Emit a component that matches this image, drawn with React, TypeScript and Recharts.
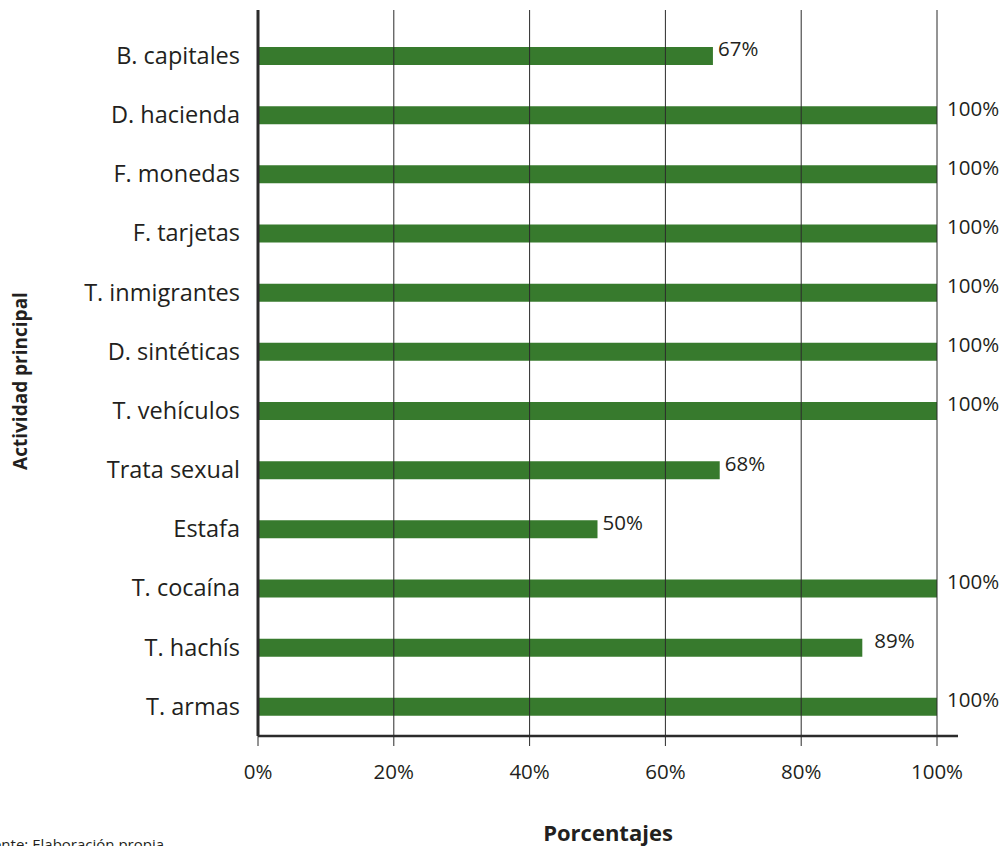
import { BarChart, Bar, XAxis, YAxis, ReferenceLine, LabelList } from "recharts";

const categories = [
  "B. capitales",
  "D. hacienda",
  "F. monedas",
  "F. tarjetas",
  "T. inmigrantes",
  "D. sintéticas",
  "T. vehículos",
  "Trata sexual",
  "Estafa",
  "T. cocaína",
  "T. hachís",
  "T. armas",
];
const porcentajes = [67, 100, 100, 100, 100, 100, 100, 68, 50, 100, 89, 100];
const xTicks = [0, 20, 40, 60, 80, 100];

const data = categories.map((actividad, i) => ({ actividad, valor: porcentajes[i] }));

const FONT = "'Open Sans', 'Noto Sans', sans-serif";
const TEXT = "#231f20";
const LINE = "#2b2b2b";

function ValueLabel(props: any) {
  const { x, y, width, height, value } = props;
  const gap = value === 100 ? 10 : value === 89 ? 12 : 5;
  return (
    <text
      x={x + width + gap}
      y={y + height / 2 - 5}
      fill={TEXT}
      fontSize={20.5}
      fontFamily={FONT}
      dominantBaseline="middle"
    >
      {value}%
    </text>
  );
}

function YTitle(props: any) {
  const { viewBox } = props;
  const cx = viewBox.x + 22;
  const cy = viewBox.y + viewBox.height / 2 + 8;
  return (
    <text
      x={cx}
      y={cy}
      transform={`rotate(-90 ${cx} ${cy})`}
      textAnchor="middle"
      dominantBaseline="middle"
      fill={TEXT}
      fontSize={19}
      fontWeight="bold"
      fontFamily={FONT}
    >
      Actividad principal
    </text>
  );
}

export default function App() {
  return (
    <div style={{ position: "absolute", left: 0, top: 0, width: 1003, height: 846, overflow: "hidden", background: "#fff" }}>
      <BarChart
        width={1003}
        height={846}
        data={data}
        layout="vertical"
        margin={{ top: 10, right: 45, left: 0, bottom: 0 }}
        barCategoryGap={0}
      >
        {xTicks.slice(1).map((t) => (
          <ReferenceLine key={t} x={t} stroke={LINE} strokeWidth={1} />
        ))}
        <XAxis
          type="number"
          domain={[0, 100]}
          ticks={xTicks}
          tickFormatter={(v) => `${v}%`}
          padding={{ left: 0, right: 21 }}
          height={110}
          axisLine={{ stroke: LINE, strokeWidth: 2.5 }}
          tickLine={{ stroke: LINE, strokeWidth: 1 }}
          tickSize={10}
          tickMargin={18}
          tick={{ fill: TEXT, fontSize: 20.5, fontFamily: FONT }}
          interval={0}
          label={{
            value: "Porcentajes",
            position: "insideBottom",
            offset: 5,
            fill: TEXT,
            fontSize: 22,
            fontWeight: "bold",
            fontFamily: FONT,
          }}
        />
        <YAxis
          type="category"
          dataKey="actividad"
          width={258}
          padding={{ top: 16, bottom: 0 }}
          axisLine={{ stroke: LINE, strokeWidth: 3 }}
          tickLine={false}
          tickSize={0}
          tickMargin={18}
          interval={0}
          tick={{ fill: TEXT, fontSize: 23.5, fontFamily: FONT }}
          label={<YTitle />}
        />
        <Bar dataKey="valor" fill="#377a2d" barSize={18} isAnimationActive={false}>
          <LabelList dataKey="valor" content={<ValueLabel />} />
        </Bar>
      </BarChart>
      <div
        style={{
          position: "absolute",
          left: -24,
          top: 837,
          fontSize: 15,
          lineHeight: "15px",
          fontFamily: FONT,
          color: TEXT,
          whiteSpace: "nowrap",
        }}
      >
        Fuente: Elaboración propia
      </div>
    </div>
  );
}
